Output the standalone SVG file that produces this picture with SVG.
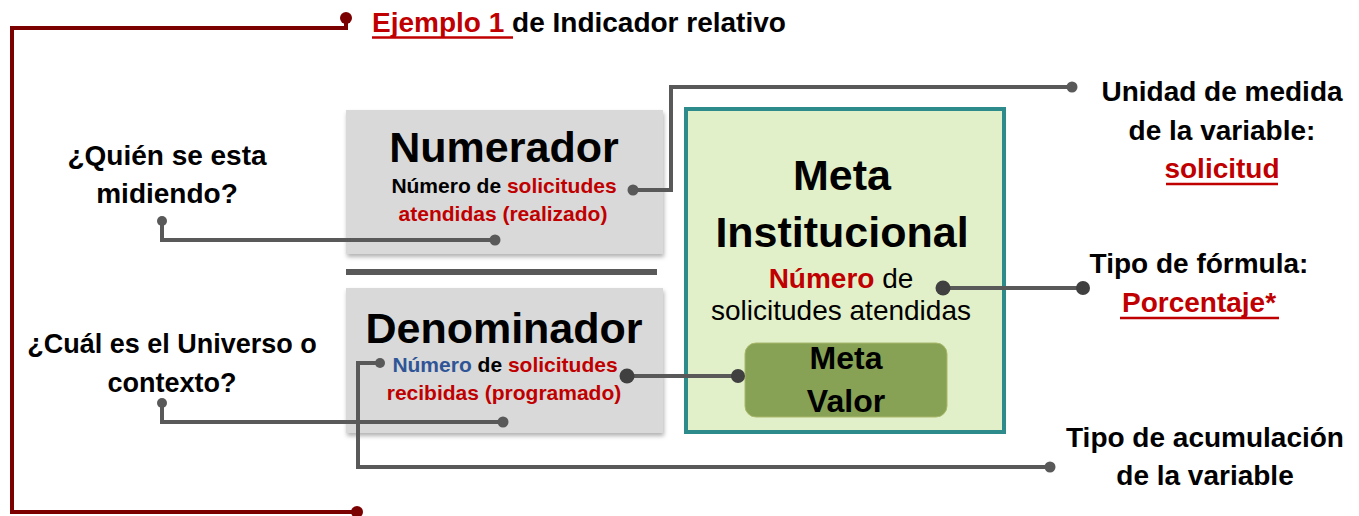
<svg xmlns="http://www.w3.org/2000/svg" width="1359" height="516" viewBox="0 0 1359 516">
  <defs>
    <filter id="shadow" x="-10%" y="-10%" width="120%" height="125%">
      <feDropShadow dx="1" dy="3" stdDeviation="2" flood-color="#000" flood-opacity="0.3"/>
    </filter>
  </defs>
  <style>
    text { font-family: "Liberation Sans", Arial, sans-serif; font-weight: bold; fill: #000; }
    .red { fill: #C00000; }
    .blue { fill: #2F5597; }
    .reg { font-weight: normal; }
    .big { font-size: 43px; }
    .mid { font-size: 28px; }
    .small { font-size: 21px; }
    .conn { fill: none; stroke: #595959; stroke-width: 4; stroke-linejoin: miter; }
    .dot { fill: #595959; }
    .frame { fill: none; stroke: #7B0000; stroke-width: 4; }
    .ul { stroke: #C00000; stroke-width: 2.5; }
  </style>

  <g id="title">
    <text x="372" y="32" font-size="28"><tspan class="red">Ejemplo 1 </tspan>de Indicador relativo</text>
    <line class="ul" x1="372" y1="37.5" x2="513" y2="37.5"/>
  </g>

  <g id="numerador">
    <rect x="346" y="110" width="317" height="144" fill="#D9D9D9" filter="url(#shadow)"/>
    <text class="big" x="504" y="162" text-anchor="middle">Numerador</text>
    <text class="small" x="504" y="193" text-anchor="middle">Número de <tspan class="red">solicitudes</tspan></text>
    <text class="small red" x="503" y="221" text-anchor="middle">atendidas (realizado)</text>
  </g>

  <g id="divider">
    <line x1="346" y1="272" x2="657" y2="272" stroke="#595959" stroke-width="6"/>
  </g>

  <g id="denominador">
    <rect x="346" y="288" width="317" height="145" fill="#D9D9D9" filter="url(#shadow)"/>
    <text class="big" x="504" y="343" text-anchor="middle">Denominador</text>
    <text class="small" x="505" y="372" text-anchor="middle"><tspan class="blue">Número</tspan> de <tspan class="red">solicitudes</tspan></text>
    <text class="small red" x="504" y="400" text-anchor="middle">recibidas (programado)</text>
  </g>

  <g id="meta-institucional">
    <rect x="686" y="109" width="318" height="323" fill="#E2F0C9" stroke="#2E8B8B" stroke-width="4"/>
    <text class="big" x="842" y="190" text-anchor="middle">Meta</text>
    <text class="big" x="842" y="247" text-anchor="middle">Institucional</text>
    <text x="841" y="288" font-size="28" text-anchor="middle"><tspan class="red">Número</tspan><tspan class="reg"> de</tspan></text>
    <text class="reg" x="841" y="320" font-size="28" text-anchor="middle">solicitudes atendidas</text>
  </g>

  <g id="meta-valor">
    <rect x="745" y="343" width="202" height="74" rx="11" ry="11" fill="#87A254" stroke="#A9B86A" stroke-width="1"/>
    <text x="846" y="369" font-size="32" text-anchor="middle">Meta</text>
    <text x="846" y="412" font-size="32" text-anchor="middle">Valor</text>
  </g>

  <g id="label-quien">
    <text class="mid" x="167" y="165" text-anchor="middle">¿Quién se esta</text>
    <text class="mid" x="167" y="203" text-anchor="middle">midiendo?</text>
  </g>

  <g id="label-universo">
    <text x="172" y="353" font-size="27" text-anchor="middle">¿Cuál es el Universo o</text>
    <text x="172" y="392" font-size="27" text-anchor="middle">contexto?</text>
  </g>

  <g id="label-unidad">
    <text class="mid" x="1222" y="101" text-anchor="middle">Unidad de medida</text>
    <text class="mid" x="1222" y="140" text-anchor="middle">de la variable:</text>
    <text class="mid red" x="1222" y="178" text-anchor="middle">solicitud</text>
    <line class="ul" x1="1166" y1="184" x2="1278" y2="184"/>
  </g>

  <g id="label-formula">
    <text class="mid" x="1199" y="273" text-anchor="middle">Tipo de fórmula:</text>
    <text class="mid red" x="1199" y="312" text-anchor="middle">Porcentaje*</text>
    <line class="ul" x1="1120" y1="318" x2="1279" y2="318"/>
  </g>

  <g id="label-acumulacion">
    <text class="mid" x="1205" y="447" text-anchor="middle">Tipo de acumulación</text>
    <text class="mid" x="1205" y="485" text-anchor="middle">de la variable</text>
  </g>

  <g id="connectors">
    <!-- frame -->
    <polyline class="frame" points="346,18 346,28 12,28 12,512 357,512"/>
    <circle cx="346" cy="18" r="6" fill="#7B0000"/>
    <circle cx="357" cy="512" r="6" fill="#7B0000"/>

    <!-- numerador to unidad -->
    <polyline class="conn" stroke-width="3.5" points="633,190 671,190 671,87 1072,87"/>
    <circle class="dot" cx="633" cy="190" r="5.5"/>
    <circle class="dot" cx="1072" cy="87" r="5.5"/>

    <!-- quien -->
    <polyline class="conn" stroke-width="3.5" points="162,221 162,240 495,240"/>
    <circle class="dot" cx="162" cy="221" r="5"/>
    <circle class="dot" cx="495" cy="240" r="5.5"/>

    <!-- universo -->
    <polyline class="conn" stroke-width="3.5" points="162,403 162,422 503,422"/>
    <circle class="dot" cx="162" cy="403" r="5"/>
    <circle class="dot" cx="503" cy="422" r="5.5"/>

    <!-- denominador numero to acumulacion -->
    <polyline class="conn" stroke-width="3.5" points="380,363 358,363 358,467 1050,467"/>
    <circle class="dot" cx="380" cy="363" r="5"/>
    <circle class="dot" cx="1050" cy="467" r="5.5"/>

    <!-- denominador to meta valor -->
    <line class="conn" stroke="#404040" x1="627" y1="376" x2="738" y2="376"/>
    <circle cx="627" cy="376" r="7.5" fill="#404040"/>
    <circle cx="738" cy="376" r="7" fill="#404040"/>

    <!-- meta institucional to formula -->
    <line class="conn" stroke="#404040" x1="943" y1="288" x2="1083" y2="288"/>
    <circle cx="943" cy="288" r="7.5" fill="#404040"/>
    <circle cx="1083" cy="288" r="7" fill="#404040"/>
  </g>
</svg>
